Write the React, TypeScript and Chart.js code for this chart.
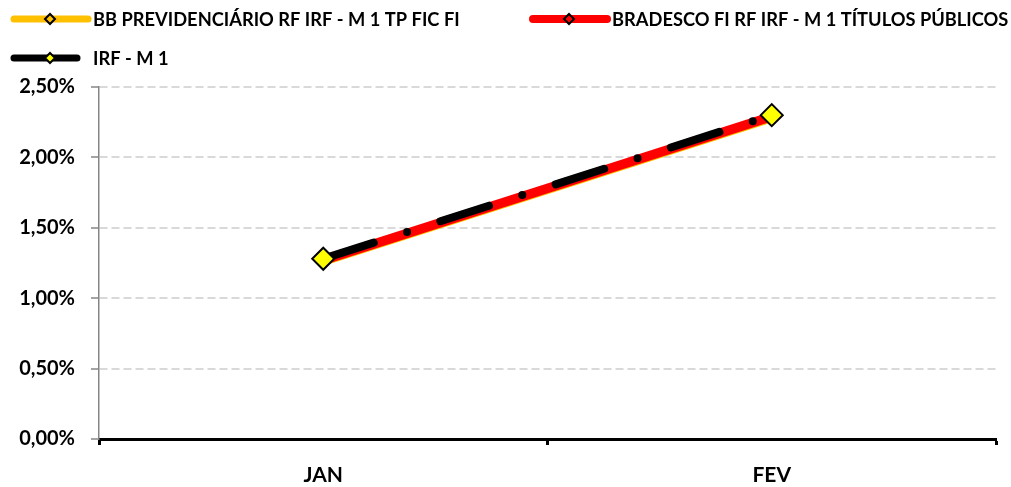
import React, { useEffect, useRef } from "react";
import { Chart, registerables } from "chart.js";

Chart.register(...registerables);

const categories = ["JAN", "FEV"];
const bbPrevidenciario = [1.25, 2.27];
const bradescoTitulos = [1.27, 2.29];
const irfM1 = [1.28, 2.3];
const seriesNames = [
  "BB PREVIDENCIÁRIO RF IRF - M 1 TP FIC FI",
  "BRADESCO FI RF IRF - M 1 TÍTULOS PÚBLICOS",
  "IRF - M 1",
];
const yMin = 0;
const yMax = 2.5;
const yStep = 0.5;

const FONT = "Lato, 'Open Sans', sans-serif";

const legendPlugin = {
  id: "excelLegend",
  afterDraw(chart: any) {
    const ctx = chart.ctx as CanvasRenderingContext2D;
    const items = [
      { x1: 14, x2: 88, y: 19, mx: 50, tx: 93, ds: 0 },
      { x1: 533, x2: 607, y: 19, mx: 569, tx: 612, ds: 1 },
      { x1: 14, x2: 77, y: 58, mx: 50, tx: 93, ds: 2 },
    ];
    const legendFill = ["rgba(0,0,0,0)", "rgba(0,0,0,0)", "#FFFF00"];
    const legendWidth = [7, 8, 7];
    ctx.save();
    items.forEach((it) => {
      const ds = chart.data.datasets[it.ds];
      ctx.beginPath();
      ctx.lineCap = "round";
      ctx.strokeStyle = ds.borderColor;
      ctx.lineWidth = legendWidth[it.ds];
      ctx.setLineDash([]);
      ctx.moveTo(it.x1, it.y);
      ctx.lineTo(it.x2, it.y);
      ctx.stroke();
      const r = 5;
      ctx.beginPath();
      ctx.moveTo(it.mx - r, it.y);
      ctx.lineTo(it.mx, it.y - r);
      ctx.lineTo(it.mx + r, it.y);
      ctx.lineTo(it.mx, it.y + r);
      ctx.closePath();
      ctx.fillStyle = legendFill[it.ds];
      ctx.fill();
      ctx.lineWidth = 2;
      ctx.strokeStyle = "#000";
      ctx.lineCap = "butt";
      ctx.stroke();
      ctx.fillStyle = "#000";
      ctx.font = `bold 18.3px ${FONT}`;
      ctx.textBaseline = "middle";
      ctx.textAlign = "left";
      ctx.fillText(seriesNames[it.ds], it.tx, it.y + 1);
    });
    ctx.restore();
  },
};

export default function App() {
  const canvasRef = useRef<HTMLCanvasElement | null>(null);

  useEffect(() => {
    if (!canvasRef.current) return;
    const chart = new Chart(canvasRef.current, {
      type: "line",
      data: {
        labels: categories,
        datasets: [
          {
            label: seriesNames[0],
            data: bbPrevidenciario,
            borderColor: "#FFC000",
            backgroundColor: "#FFFFFF",
            borderWidth: 6,
            borderCapStyle: "round",
            pointStyle: "rectRot",
            pointRadius: 4,
            pointBackgroundColor: "#FFFFFF",
            pointBorderColor: "#000000",
            pointBorderWidth: 1.5,
            order: 3,
          },
          {
            label: seriesNames[1],
            data: bradescoTitulos,
            borderColor: "#FF0000",
            backgroundColor: "#FFFFFF",
            borderWidth: 9.5,
            borderCapStyle: "round",
            pointStyle: "rectRot",
            pointRadius: 4,
            pointBackgroundColor: "#FF0000",
            pointBorderColor: "#000000",
            pointBorderWidth: 1.5,
            order: 2,
          },
          {
            label: seriesNames[2],
            data: irfM1,
            borderColor: "#000000",
            backgroundColor: "#FFFF00",
            borderWidth: 8,
            borderCapStyle: "round",
            borderDash: [51, 35, 0, 35],
            borderDashOffset: -2,
            pointStyle: "rectRot",
            pointRadius: 11,
            pointBackgroundColor: "#FFFF00",
            pointBorderColor: "#000000",
            pointBorderWidth: 2,
            order: 1,
          },
        ],
      },
      options: {
        responsive: false,
        animation: false,
        events: [],
        layout: { padding: { top: 87, right: 15, left: 0, bottom: 0 } },
        plugins: {
          legend: { display: false },
          tooltip: { enabled: false },
          title: { display: false },
        },
        scales: {
          x: {
            type: "category",
            offset: true,
            grid: {
              display: true,
              offset: true,
              drawOnChartArea: false,
              drawTicks: true,
              tickLength: 6,
              tickColor: "#000000",
              tickWidth: 3,
            },
            border: { display: true, color: "#000000", width: 3 },
            ticks: {
              color: "#000000",
              font: { family: FONT, size: 21, weight: "bold" },
              padding: 18,
              maxRotation: 0,
            },
            afterFit: (scale: any) => {
              scale.height = 48;
            },
          },
          y: {
            min: yMin,
            max: yMax,
            grid: {
              color: "#D9D9D9",
              lineWidth: 2,
              tickColor: "#868686",
              tickLength: 8,
              tickWidth: 1.5,
              tickBorderDash: [1, 0],
            },
            border: { display: true, color: "#868686", width: 1.5, dash: [8, 4] },
            ticks: {
              stepSize: yStep,
              color: "#000000",
              padding: 16,
              font: { family: FONT, size: 20, weight: "bold" },
              callback: (v: any) => Number(v).toFixed(2).replace(".", ",") + "%",
            },
            afterFit: (scale: any) => {
              scale.width = 99;
            },
          },
        },
      },
      plugins: [legendPlugin],
    } as any);
    return () => chart.destroy();
  }, []);

  return (
    <div style={{ position: "absolute", left: 0, top: 0, width: 1011, height: 487, background: "#fff" }}>
      <canvas ref={canvasRef} width={1011} height={487} />
    </div>
  );
}
